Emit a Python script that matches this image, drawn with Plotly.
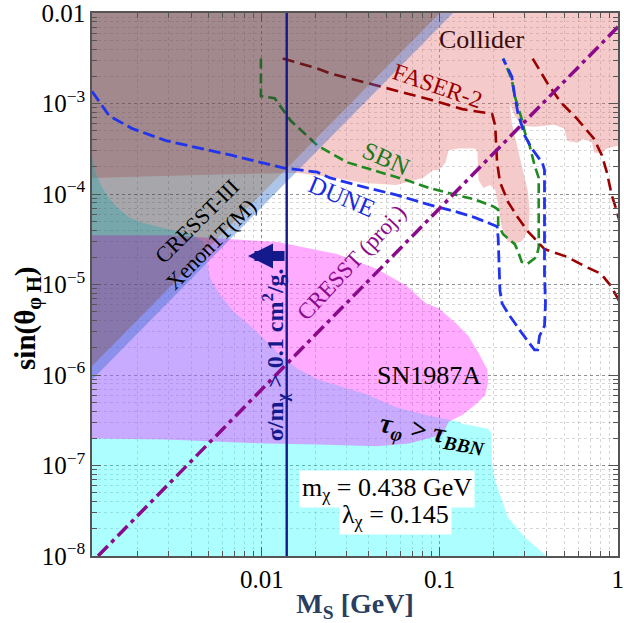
import math
import plotly.graph_objects as go

# ---------------- data (M_S in GeV, sin(theta_phiH)) ----------------
# Collider exclusion (upper region), outline along its lower edge
collider_M = [0.00111, 0.00441, 0.0158, 0.0242, 0.0373, 0.0570, 0.0805, 0.0914, 0.0987,
              0.108, 0.112, 0.128, 0.158, 0.163, 0.165, 0.176, 0.192, 0.205, 0.213, 0.224,
              0.242, 0.264, 0.293, 0.316, 0.320, 0.312, 0.293, 0.271, 0.254, 0.248, 0.264,
              0.289, 0.341, 0.388, 0.441, 0.501, 0.521, 0.592, 0.647, 0.718, 0.736, 0.805,
              0.869, 1.02, 1.02, 0.00111]
collider_sin = [1.51e-4, 1.63e-4, 1.71e-4, 1.55e-4, 1.33e-4, 1.26e-4, 1.51e-4, 1.84e-4, 1.84e-4,
                2.25e-4, 3.05e-4, 3.2e-4, 3.2e-4, 2.9e-4, 1.43e-4, 1.17e-4, 1.26e-4, 1.11e-4, 7.65e-5, 4.1e-5,
                3.0e-5, 2.8e-5, 3.1e-5, 4.1e-5, 6.75e-5, 1.11e-4, 1.84e-4, 3.45e-4, 6.2e-4, 9.9e-4, 7.3e-4,
                5.7e-4, 5.56e-4, 5.7e-4, 5.85e-4, 5.3e-4, 3.9e-4, 3.7e-4, 4.1e-4, 3.7e-4, 2.9e-4, 2.82e-4,
                3.2e-4, 3.45e-4, 1.01e-2, 1.01e-2]

# tau_phi > tau_BBN region (from below)
bbn_M = [0.00111, 0.00111, 0.00117, 0.00126, 0.00139, 0.00157, 0.00180, 0.00209, 0.00282, 0.00393,
         0.00475, 0.00482, 0.00514, 0.00585, 0.0069, 0.00915, 0.0123, 0.0158, 0.0205, 0.0264, 0.0388,
         0.057, 0.0836, 0.128, 0.134, 0.187, 0.195, 0.197, 0.205, 0.242, 0.301, 0.398]
bbn_sin = [1.0e-8, 2.69e-4, 1.67e-4, 1.21e-4, 8.9e-5, 6.9e-5, 5.5e-5, 4.9e-5, 4.2e-5, 3.7e-5,
           2.9e-5, 2.2e-5, 1.16e-5, 7.6e-6, 5.1e-6, 3.15e-6, 1.77e-6, 1.18e-6, 9.0e-7, 7.7e-7, 6.15e-7,
           4.4e-7, 3.63e-7, 3.05e-7, 2.9e-7, 2.55e-7, 2.25e-7, 1.03e-7, 6.75e-8, 2.67e-8, 1.61e-8, 1.0e-8]

# SN1987A region
sn_M = [0.00111, 0.00304, 0.00388, 0.00501, 0.00647, 0.0123, 0.0158, 0.0264, 0.0441, 0.0648,
        0.0836, 0.0987, 0.123, 0.145, 0.165, 0.185, 0.187, 0.180, 0.158, 0.134, 0.112, 0.104,
        0.0673, 0.0441, 0.0205, 0.0104, 0.00289, 0.00111]
sn_sin = [3.5e-5, 3.5e-5, 3.4e-5, 3.3e-5, 3.18e-5, 2.95e-5, 2.67e-5, 2.18e-5, 1.5e-5, 9.75e-6,
          6.2e-6, 5.47e-6, 3.76e-6, 2.71e-6, 1.77e-6, 1.15e-6, 8.3e-7, 6.0e-7, 4.67e-7, 3.63e-7, 3.05e-7, 2.2e-7,
          1.75e-7, 1.63e-7, 1.71e-7, 1.75e-7, 1.94e-7, 1.99e-7]

# CRESST-III and Xenon1T(M) bounds (straight lines in log-log)
cresst3_M = [0.00111, 0.1005]
cresst3_sin = [1.25e-6, 1.01e-2]
xenon_M = [0.00111, 0.119]
xenon_sin = [8.9e-7, 1.01e-2]

# CRESST projection
cresst_proj_M = [0.0012, 1.02]
cresst_proj_sin = [1.0e-8, 7.3e-3]

# DUNE sensitivity
dune_M = [0.00111, 0.00139, 0.00187, 0.00289, 0.00673, 0.0134, 0.0205, 0.0242, 0.0373, 0.057,
          0.0869, 0.123, 0.158, 0.210, 0.213, 0.216, 0.218, 0.224, 0.242, 0.289, 0.341, 0.355,
          0.364, 0.388, 0.393, 0.388, 0.388, 0.378, 0.329, 0.301, 0.289, 0.275, 0.264, 0.254, 0.227]
dune_sin = [1.37e-3, 7.3e-4, 5.3e-4, 3.9e-4, 2.69e-4, 1.94e-4, 1.75e-4, 1.51e-4, 1.2e-4, 9.8e-5,
            7.65e-5, 6.4e-5, 5.5e-5, 4.4e-5, 3.3e-5, 1.32e-5, 8.6e-6, 6.2e-6, 4.8e-6, 2.92e-6, 1.9e-6, 1.9e-6,
            2.71e-6, 3.5e-6, 6.2e-6, 1.32e-5, 1.84e-4, 2.2e-4, 3.2e-4, 4.4e-4, 5.7e-4, 7.9e-4, 1.21e-3, 2.0e-3, 3.15e-3]

# SBN sensitivity
sbn_M = [0.00988, 0.00988, 0.0118, 0.0145, 0.0187, 0.0205, 0.0301, 0.0458, 0.0648, 0.0869,
         0.123, 0.158, 0.200, 0.213, 0.213, 0.227, 0.264, 0.275, 0.289, 0.312, 0.350, 0.360,
         0.360, 0.341, 0.320, 0.301, 0.289, 0.264, 0.254, 0.227]
sbn_sin = [3.15e-3, 1.21e-3, 1.15e-3, 6.5e-4, 4.1e-4, 3.45e-4, 2.25e-4, 1.75e-4, 1.43e-4, 1.17e-4,
           9.8e-5, 8.7e-5, 7.3e-5, 6.75e-5, 4.6e-5, 3.6e-5, 2.8e-5, 2.35e-5, 1.78e-5, 1.7e-5, 2.02e-5, 2.6e-5,
           1.51e-4, 2.09e-4, 3.45e-4, 4.8e-4, 6.8e-4, 1.21e-3, 1.86e-3, 3.15e-3]

# FASER-2 sensitivity (two branches)
faser_a_M = [0.0131, 0.0205, 0.0242, 0.0458, 0.0869, 0.134, 0.197, 0.205, 0.210, 0.218,
             0.242, 0.275, 0.312, 0.388, 0.521, 0.647, 0.805, 0.914, 1.02]
faser_a_sin = [3.15e-3, 2.45e-3, 2.16e-3, 1.56e-3, 1.12e-3, 8.7e-4, 7.7e-4, 5.7e-4, 2.25e-4, 1.36e-4,
               8.2e-5, 5.5e-5, 3.9e-5, 2.47e-5, 2.02e-5, 1.61e-5, 1.32e-5, 9.75e-6, 6.6e-6]
faser_b_M = [0.333, 0.403, 0.482, 0.592, 0.736, 0.815, 0.869, 0.926, 0.975, 1.02]
faser_b_sin = [3.15e-3, 1.68e-3, 1.02e-3, 6.8e-4, 4.1e-4, 2.69e-4, 1.75e-4, 9.8e-5, 7.1e-5, 5.2e-5]

# self-interaction bound sigma/m_chi > 0.1 cm^2/g
sidm_M = 0.0138

x_ticks = [0.01, 0.1, 1.0]
x_ticktext = ["0.01", "0.1", "1"]
y_ticks = [1e-8, 1e-7, 1e-6, 1e-5, 1e-4, 1e-3, 1e-2]
y_ticktext = ["10<sup>\u22128</sup>", "10<sup>\u22127</sup>", "10<sup>\u22126</sup>", "10<sup>\u22125</sup>",
              "10<sup>\u22124</sup>", "10<sup>\u22123</sup>", "0.01"]

M_MIN, M_MAX = 0.00111, 1.0
S_MIN, S_MAX = 1e-8, 1e-2

SERIF = "Liberation Serif"
lg = math.log10

fig = go.Figure()


def region(xs, ys, color):
    fig.add_trace(go.Scatter(x=xs, y=ys, mode="lines", fill="toself", fillcolor=color,
                             line=dict(width=0), hoverinfo="skip", showlegend=False))


def curve(xs, ys, color, width, dash):
    fig.add_trace(go.Scatter(x=xs, y=ys, mode="lines", line=dict(color=color, width=width, dash=dash),
                             hoverinfo="skip", showlegend=False))


region(collider_M, collider_sin, "rgba(228,112,112,0.37)")
region(bbn_M, bbn_sin, "rgba(0,255,255,0.32)")
region(sn_M, sn_sin, "rgba(255,0,255,0.33)")

curve(sbn_M, sbn_sin, "#1f8a1f", 2.6, "10px,5px")
curve(faser_a_M, faser_a_sin, "#9a0000", 2.6, "12px,6px")
curve(faser_b_M, faser_b_sin, "#9a0000", 2.6, "12px,6px")

# CRESST-III excluded wedge and the Xenon1T(M) strip below it
region(cresst3_M + [M_MIN], cresst3_sin + [1.01e-2], "rgba(50,52,60,0.43)")
region(xenon_M + cresst3_M[::-1], xenon_sin + cresst3_sin[::-1], "rgba(40,100,200,0.38)")

curve(dune_M, dune_sin, "#2233ee", 2.8, "12px,5px")
curve(cresst_proj_M, cresst_proj_sin, "#8b0a8b", 3.5, "14px,5px,4px,5px")
curve([sidm_M, sidm_M], [S_MIN, 1.01e-2], "#141a8c", 2.4, "solid")

ann = []


def label(x, y, text, size, color="black", angle=0, bg=None):
    d = dict(x=lg(x), y=lg(y), xref="x", yref="y", text=text, showarrow=False, textangle=angle,
             font=dict(family=SERIF, size=size, color=color))
    if bg:
        d.update(bgcolor=bg, borderpad=2)
    ann.append(d)


label(0.173, 5.07e-3, "Collider", 26, "#3a0c0c")
label(0.0975, 1.56e-3, "FASER-2", 24, "#9a0000", 19)
label(0.050, 2.49e-4, "SBN", 25, "#1f7a1f", 24)
label(0.0282, 9.35e-5, "DUNE", 25, "#1a2be0", 23)
label(0.0043, 5.0e-5, "CRESST-III", 22, "black", -45)
label(0.00514, 2.8e-5, "Xenon1T(M)", 22, "black", -45)
label(0.0321, 1.74e-5, "CRESST (proj.)", 23, "#8b0a8b", -47)
label(0.0869, 9.9e-7, "SN1987A", 26)
label(0.0914, 2.25e-7, "<b><i>\u03c4<sub>\u03c6</sub> > \u03c4<sub>BBN</sub></i></b>", 28, "black", 10)
label(0.0508, 5.5e-8, "m<sub>\u03c7</sub> = 0.438 GeV", 26, bg="white")
label(0.0562, 2.8e-8, "\u03bb<sub>\u03c7</sub> = 0.145", 26, bg="white")
label(0.0118, 1.68e-6, "<b>\u03c3/m<sub>\u03c7</sub> > 0.1 cm<sup>2</sup>/g.</b>", 24, "#141a8c", -90)

# arrow pointing towards the excluded side of the self-interaction bound
ann.append(dict(x=lg(0.00836), y=lg(2.07e-5), xref="x", yref="y", ax=38, ay=0, text="",
                showarrow=True, arrowhead=2, arrowsize=0.5, arrowwidth=10, arrowcolor="#141a8c"))

# vertical axis title, set clear of the tick labels
ann.append(dict(x=-0.124, y=0.438, xref="paper", yref="paper", xanchor="center", yanchor="middle",
                showarrow=False, textangle=-90,
                text="<b>sin(\u03b8<sub>\u03c6 H</sub>)</b>", font=dict(family=SERIF, size=29, color="black")))

axis_common = dict(
    type="log", showline=True, linecolor="#555555", linewidth=1.5, mirror="allticks",
    ticks="inside", ticklen=9, tickwidth=1, tickcolor="#555555",
    showgrid=True, gridcolor="rgba(90,90,90,0.55)", griddash="dot", gridwidth=1,
    tickfont=dict(family=SERIF, size=25, color="black"), zeroline=False,
    ticklabeloverflow="allow",
    minor=dict(ticks="inside", ticklen=5, tickcolor="#555555", dtick="D1",
               showgrid=True, gridcolor="rgba(120,120,120,0.30)", griddash="dot"),
)

fig.update_layout(
    width=624, height=623,
    margin=dict(l=92, r=0, t=6, b=67),
    paper_bgcolor="white", plot_bgcolor="white",
    showlegend=False,
    annotations=ann,
    xaxis=dict(axis_common, range=[lg(M_MIN), lg(M_MAX) + 0.002], tickmode="array", tickvals=x_ticks,
               ticktext=x_ticktext,
               title=dict(text="<b>M<sub>S</sub> [GeV]</b>", font=dict(family=SERIF, size=28), standoff=2)),
    yaxis=dict(axis_common, range=[lg(S_MIN), lg(S_MAX) + 0.002], tickmode="array", tickvals=y_ticks,
               ticktext=y_ticktext),
)

fig.write_html("out.html")
